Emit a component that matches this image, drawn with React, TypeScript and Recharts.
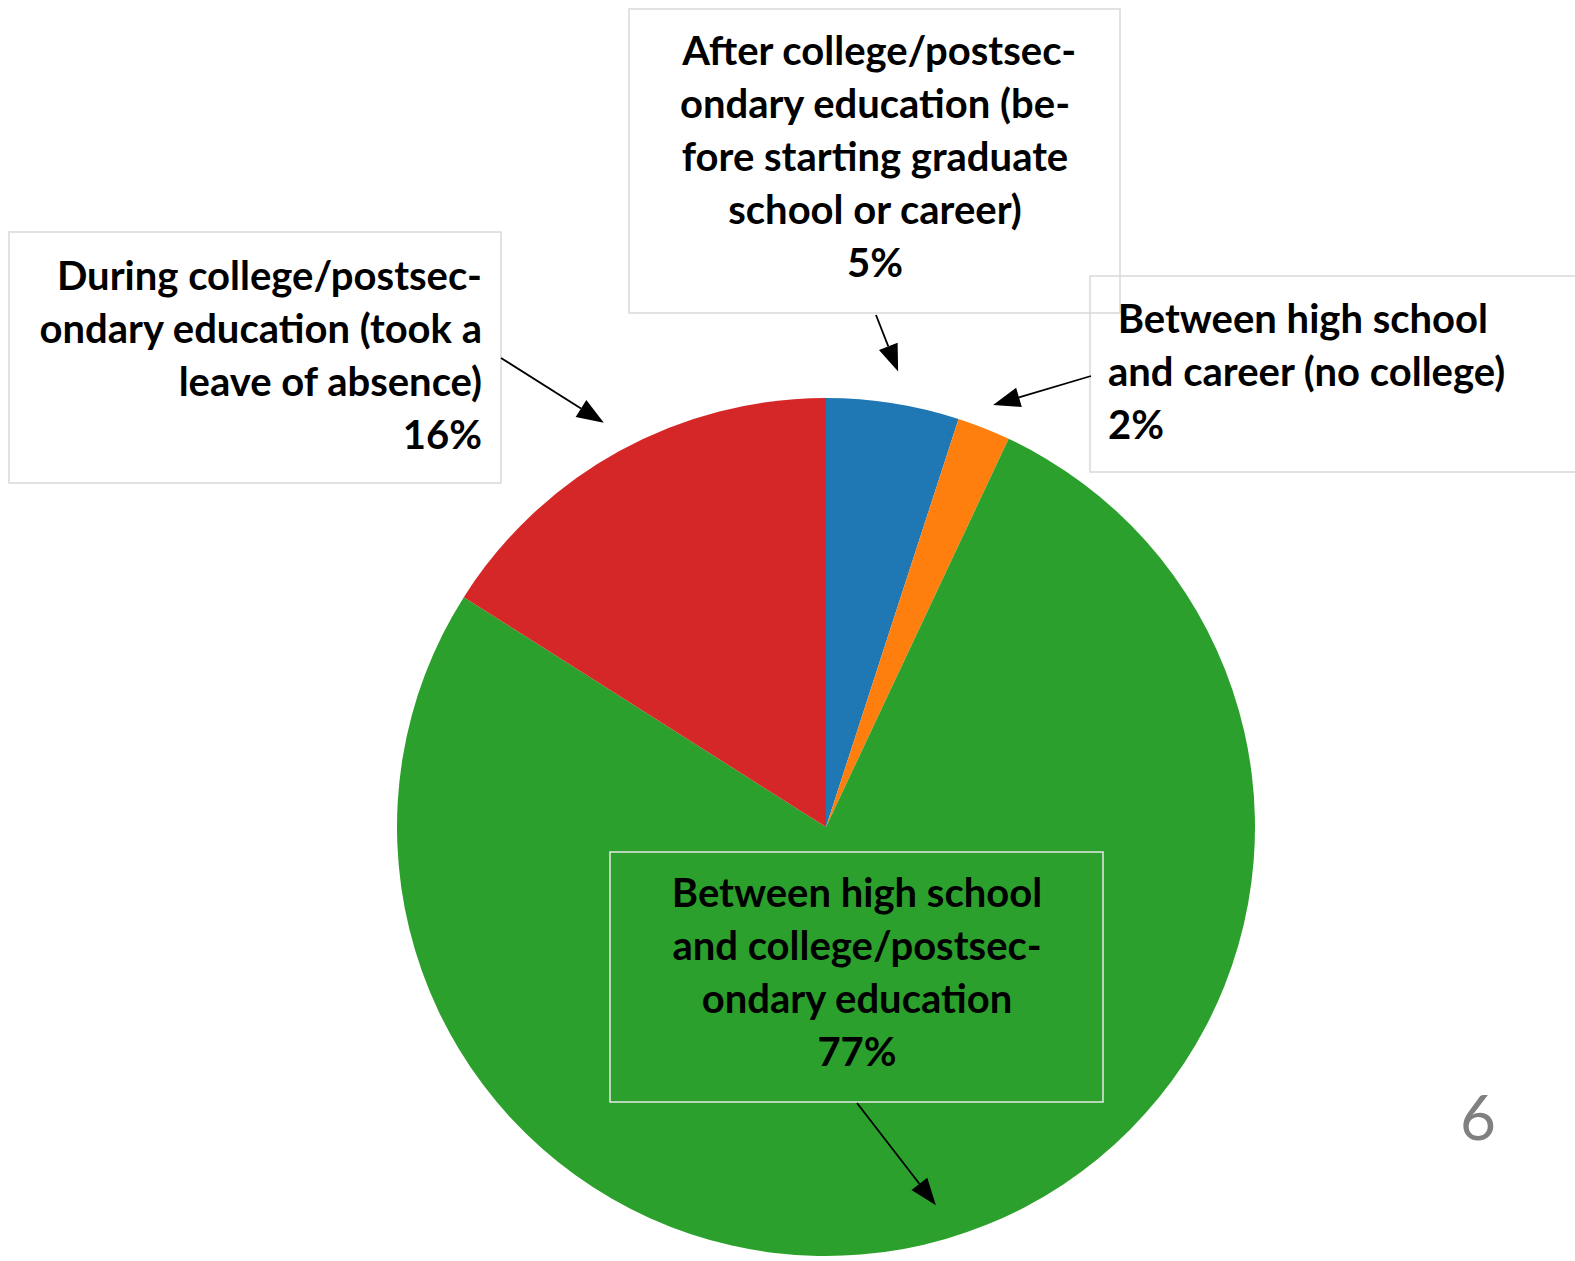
import { PieChart, Pie, Cell } from 'recharts';

const categories = [
  'After college/postsecondary education (before starting graduate school or career)',
  'Between high school and career (no college)',
  'Between high school and college/postsecondary education',
  'During college/postsecondary education (took a leave of absence)',
];
const shares = [5, 2, 77, 16];
const sliceColors = ['#1f77b4', '#ff7f0e', '#2ca02c', '#d62728'];
const labelLines = [
  [' After college/postsec-', 'ondary education (be-', 'fore starting graduate', 'school or career)', '5%'],
  [' Between high school', 'and career (no college)', '2%'],
  ['Between high school', 'and college/postsec-', 'ondary education', '77%'],
  ['During college/postsec-', 'ondary education (took a', 'leave of absence)', '16%'],
];
const pageNumber = '6';

const data = categories.map((name, i) => ({ name, value: shares[i] }));

// where each callout box sits and where its arrow starts
const labelLayout = [
  { box: [629, 9, 491, 304], anchor: 'middle', textX: 875, firstBaseline: 65, tail: [876, 315], tipScale: 1.075, stroke: '#d9d9d9' },
  { box: [1090, 276, 500, 196], anchor: 'start', textX: 1108, firstBaseline: 333, tail: [1091, 376], tipScale: 1.058, stroke: '#d9d9d9' },
  { box: [610, 852, 493, 250], anchor: 'middle', textX: 857, firstBaseline: 907, tail: [857, 1103], tipScale: 0.918, stroke: '#e8e8e8' },
  { box: [9, 232, 492, 251], anchor: 'end', textX: 482, firstBaseline: 290, tail: [501, 358], tipScale: 1.075, stroke: '#d9d9d9' },
];

const FONT = 'Lato, "Open Sans", sans-serif';
const LINE_HEIGHT = 53;
const RAD = Math.PI / 180;

function renderLabel(props: any) {
  const { cx, cy, midAngle, outerRadius, index } = props;
  const lay = labelLayout[index];
  const r = outerRadius * lay.tipScale;
  const tipX = cx + r * Math.cos(-midAngle * RAD);
  const tipY = cy + r * Math.sin(-midAngle * RAD);
  const [tx, ty] = lay.tail;
  const len = Math.hypot(tipX - tx, tipY - ty);
  const ux = (tipX - tx) / len;
  const uy = (tipY - ty) / len;
  const head = 27;
  const half = 10;
  const bx = tipX - ux * head;
  const by = tipY - uy * head;
  const [x, y, w, h] = lay.box;
  return (
    <g key={`label-${index}`}>
      <rect x={x} y={y} width={w} height={h} fill="none" stroke={lay.stroke} strokeWidth={1.5} />
      <text
        x={lay.textX}
        textAnchor={lay.anchor as any}
        fontFamily={FONT}
        fontWeight={700}
        fontSize={40}
        fill="#000"
        style={{ whiteSpace: 'pre' }}
      >
        {labelLines[index].map((line, i) => (
          <tspan key={i} x={lay.textX} y={lay.firstBaseline + i * LINE_HEIGHT}>
            {line}
          </tspan>
        ))}
      </text>
      <line x1={tx} y1={ty} x2={bx} y2={by} stroke="#000" strokeWidth={1.8} />
      <polygon
        points={`${tipX},${tipY} ${bx - uy * half},${by + ux * half} ${bx + uy * half},${by - ux * half}`}
        fill="#000"
      />
    </g>
  );
}

export default function App() {
  return (
    <div style={{ position: 'absolute', left: 0, top: 0, width: 1575, height: 1261, background: '#fff', overflow: 'hidden' }}>
      <PieChart width={1575} height={1261} margin={{ top: 0, right: 0, bottom: 0, left: 0 }}>
        <Pie
          data={data}
          dataKey="value"
          nameKey="name"
          cx={826}
          cy={827}
          outerRadius={429}
          startAngle={90}
          endAngle={-270}
          stroke="none"
          label={renderLabel}
          labelLine={false}
          isAnimationActive={false}
        >
          {data.map((entry, i) => (
            <Cell key={entry.name} fill={sliceColors[i]} />
          ))}
        </Pie>
      </PieChart>
      <div
        style={{
          position: 'absolute',
          left: 1478,
          top: 1080,
          transform: 'translateX(-50%)',
          fontFamily: FONT,
          fontSize: 62,
          lineHeight: '72px',
          color: '#808080',
        }}
      >
        {pageNumber}
      </div>
    </div>
  );
}
